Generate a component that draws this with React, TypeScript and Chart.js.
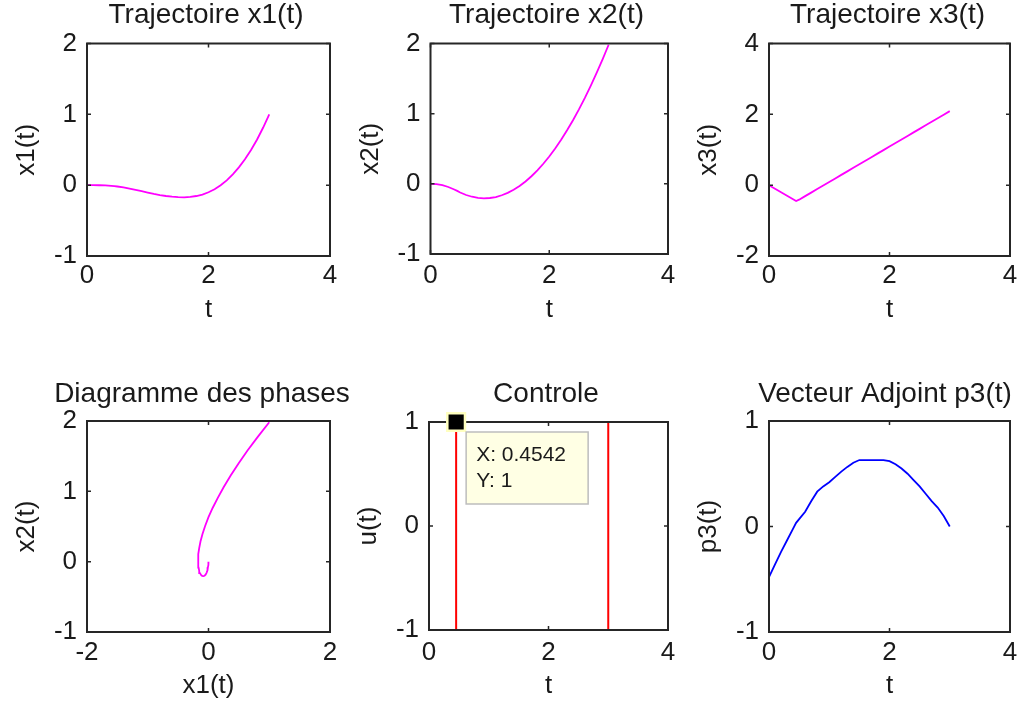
import React, { useEffect, useRef } from 'react';
import { Chart, registerables } from 'chart.js';

Chart.register(...registerables);

// ---------- data ----------
const t = [0, 0.1, 0.2, 0.3, 0.4, 0.45, 0.5, 0.6, 0.7, 0.8, 0.9, 1.0, 1.1, 1.2, 1.3, 1.4, 1.5, 1.6, 1.7, 1.8, 1.9, 2.0, 2.1, 2.2, 2.3, 2.4, 2.5, 2.6, 2.7, 2.8, 2.9, 3.0];
const x1 = [0, 0, -0.001, -0.004, -0.01, -0.014, -0.019, -0.032, -0.048, -0.066, -0.085, -0.104, -0.123, -0.14, -0.153, -0.163, -0.169, -0.171, -0.166, -0.153, -0.132, -0.1, -0.057, -0.002, 0.068, 0.153, 0.251, 0.365, 0.497, 0.645, 0.814, 1.0];
const x2 = [0, -0.005, -0.02, -0.045, -0.08, -0.101, -0.123, -0.159, -0.184, -0.2, -0.206, -0.202, -0.188, -0.163, -0.129, -0.085, -0.031, 0.033, 0.108, 0.192, 0.286, 0.39, 0.504, 0.629, 0.763, 0.907, 1.061, 1.225, 1.4, 1.584, 1.778, 1.982];
const x3 = [0, -0.1, -0.2, -0.3, -0.4, -0.45, -0.41, -0.31, -0.21, -0.11, -0.01, 0.09, 0.19, 0.29, 0.39, 0.49, 0.59, 0.69, 0.79, 0.89, 0.99, 1.09, 1.19, 1.29, 1.39, 1.49, 1.59, 1.69, 1.79, 1.89, 1.99, 2.09];
const p3 = [-0.48, -0.36, -0.24, -0.13, -0.02, 0.035, 0.07, 0.14, 0.24, 0.33, 0.38, 0.42, 0.47, 0.52, 0.565, 0.605, 0.63, 0.63, 0.63, 0.63, 0.63, 0.62, 0.59, 0.55, 0.5, 0.44, 0.38, 0.31, 0.24, 0.18, 0.1, 0.0];
const uT = [0, 0.4542, 0.4542, 3, 3];
const uV = [-1, -1, 1, 1, -1];
const tipX = 0.4542;
const tipY = 1;

const titles = ['Trajectoire x1(t)', 'Trajectoire x2(t)', 'Trajectoire x3(t)', 'Diagramme des phases', 'Controle', 'Vecteur Adjoint p3(t)'];
const xLabels = ['t', 't', 't', 'x1(t)', 't', 't'];
const yLabels = ['x1(t)', 'x2(t)', 'x3(t)', 'x2(t)', 'u(t)', 'p3(t)'];

// ---------- styles ----------
const FONT = '"Liberation Sans", Arial, Helvetica, sans-serif';
const TEXT = '#1a1a1a';
const FRAME = '#262626';
const MAGENTA = '#ff00ff';
const BLUE = '#0000ff';
const RED = '#ff0000';

type Sub = {
  L: number; R: number; T: number; B: number;
  titleX: number; titleY: number; labelY: number; xTitleY: number;
  xMin: number; xMax: number; xStep: number;
  yMin: number; yMax: number; yStep: number;
  datasets: any[];
  tip?: boolean;
};

const pts = (xs: number[], ys: number[]) => xs.map((v, i) => ({ x: v, y: ys[i] }));

const lineDs = (data: any[], color: string, w = 1.8) => ({
  data,
  borderColor: color,
  borderWidth: w,
  pointRadius: 0,
  tension: 0,
  xAxisID: 'x',
  yAxisID: 'y',
  order: 1,
});

const subs: Sub[] = [
  { L: 87, R: 330, T: 43.5, B: 256, titleX: 206, titleY: 15.5, labelY: 276, xTitleY: 309, xMin: 0, xMax: 4, xStep: 2, yMin: -1, yMax: 2, yStep: 1, datasets: [lineDs(pts(t, x1), MAGENTA)] },
  { L: 430.5, R: 668, T: 43.5, B: 254, titleX: 546.5, titleY: 15.5, labelY: 276, xTitleY: 309, xMin: 0, xMax: 4, xStep: 2, yMin: -1, yMax: 2, yStep: 1, datasets: [lineDs(pts(t, x2), MAGENTA)] },
  { L: 769, R: 1010, T: 43.5, B: 256, titleX: 887.5, titleY: 15.5, labelY: 276, xTitleY: 309, xMin: 0, xMax: 4, xStep: 2, yMin: -2, yMax: 4, yStep: 2, datasets: [lineDs(pts(t, x3), MAGENTA)] },
  { L: 87, R: 330, T: 421, B: 632, titleX: 202, titleY: 394.5, labelY: 652.5, xTitleY: 685, xMin: -2, xMax: 2, xStep: 2, yMin: -1, yMax: 2, yStep: 1, datasets: [lineDs(pts(x1, x2), MAGENTA)] },
  {
    L: 429, R: 668, T: 422, B: 630, titleX: 546, titleY: 394, labelY: 652.5, xTitleY: 685, xMin: 0, xMax: 4, xStep: 2, yMin: -1, yMax: 1, yStep: 1,
    datasets: [
      lineDs(pts(uT, uV), RED, 2),
      {
        data: [{ x: tipX, y: tipY }],
        showLine: false,
        pointStyle: 'rect',
        pointRadius: 12.5,
        pointBackgroundColor: '#000000',
        pointBorderColor: '#ffffc0',
        pointBorderWidth: 2.5,
        clip: false,
        xAxisID: 'x',
        yAxisID: 'y',
        order: 0,
      },
    ],
    tip: true,
  },
  { L: 769, R: 1010, T: 421, B: 632, titleX: 885, titleY: 394, labelY: 652.5, xTitleY: 685, xMin: 0, xMax: 4, xStep: 2, yMin: -1, yMax: 1, yStep: 1, datasets: [lineDs(pts(t, p3), BLUE)] },
];

const WL = 76;
const TITLE_SIZE = 28;
const TITLE_LH = TITLE_SIZE * 1.2;
const AX_SIZE = 26;
const AX_LH = AX_SIZE * 1.2;

function geometry(s: Sub) {
  const left = Math.round(s.L - WL);
  const wl = s.L - left;
  const plotW = s.R - s.L;
  const width = Math.round(2 * (s.titleX - left));
  const wr = width - wl - plotW;
  const top = Math.floor(s.titleY - TITLE_LH / 2);
  const padTop = s.titleY - TITLE_LH / 2 - top;
  const padBottom = s.T - top - padTop - TITLE_LH;
  const height = Math.round(s.B - top + (s.xTitleY - s.B + AX_LH / 2));
  const hb = height - (s.B - top);
  const tickPad = s.labelY - s.B - AX_LH / 2;
  return { left, top, width, height, wl, wr, padTop, padBottom, hb, tickPad };
}

const framePlugin = {
  id: 'matlabFrame',
  afterDatasetDraw(chart: any, args: any) {
    if (args.index !== 0) return;
    const { ctx, chartArea: a, scales } = chart;
    ctx.save();
    ctx.strokeStyle = FRAME;
    ctx.lineWidth = 1.5;
    const tl = 4;
    ctx.beginPath();
    for (const tk of scales.x.ticks) {
      const px = scales.x.getPixelForValue(tk.value);
      ctx.moveTo(px, a.bottom); ctx.lineTo(px, a.bottom - tl);
      ctx.moveTo(px, a.top); ctx.lineTo(px, a.top + tl);
    }
    for (const tk of scales.y.ticks) {
      const py = scales.y.getPixelForValue(tk.value);
      ctx.moveTo(a.left, py); ctx.lineTo(a.left + tl, py);
      ctx.moveTo(a.right, py); ctx.lineTo(a.right - tl, py);
    }
    ctx.stroke();
    ctx.lineWidth = 2;
    ctx.strokeRect(a.left, a.top, a.right - a.left, a.bottom - a.top);
    ctx.restore();
  },
};

const tipPlugin = {
  id: 'dataTip',
  afterDatasetsDraw(chart: any, _args: any, opts: any) {
    if (!opts || !opts.show) return;
    const { ctx, scales } = chart;
    const px = scales.x.getPixelForValue(tipX);
    const py = scales.y.getPixelForValue(tipY);
    ctx.save();
    ctx.fillStyle = '#ffffe4';
    ctx.strokeStyle = '#bdbdbd';
    ctx.lineWidth = 1.5;
    ctx.fillRect(px + 10, py + 10, 122, 72);
    ctx.strokeRect(px + 10, py + 10, 122, 72);
    ctx.fillStyle = TEXT;
    ctx.font = `21px ${FONT}`;
    ctx.textBaseline = 'alphabetic';
    ctx.textAlign = 'left';
    ctx.fillText(`X: ${tipX}`, px + 20, py + 39);
    ctx.fillText(`Y: ${tipY}`, px + 20, py + 65);
    ctx.restore();
  },
};

function makeConfig(s: Sub, i: number): any {
  const g = geometry(s);
  const axFont = { family: FONT, size: AX_SIZE, weight: 'normal' as const };
  return {
    type: 'line',
    data: { datasets: s.datasets },
    plugins: [framePlugin, tipPlugin],
    options: {
      responsive: false,
      animation: false,
      events: [],
      layout: { padding: 0 },
      plugins: {
        legend: { display: false },
        tooltip: { enabled: false },
        title: {
          display: true,
          text: titles[i],
          color: TEXT,
          font: { family: FONT, size: TITLE_SIZE, weight: 'normal', lineHeight: 1.2 },
          padding: { top: g.padTop, bottom: g.padBottom },
          fullSize: true,
        },
        dataTip: { show: !!s.tip },
      },
      scales: {
        x: {
          type: 'linear',
          position: 'bottom',
          min: s.xMin,
          max: s.xMax,
          ticks: { stepSize: s.xStep, padding: g.tickPad, color: TEXT, font: axFont, maxRotation: 0, autoSkip: false },
          grid: { display: false, drawTicks: false },
          border: { display: false },
          title: { display: true, text: xLabels[i], color: TEXT, font: { ...axFont, lineHeight: 1.2 }, padding: 0 },
          afterFit: (sc: any) => { sc.height = g.hb; },
        },
        y: {
          type: 'linear',
          position: 'left',
          min: s.yMin,
          max: s.yMax,
          ticks: { stepSize: s.yStep, padding: 10, color: TEXT, font: axFont, autoSkip: false },
          grid: { display: false, drawTicks: false },
          border: { display: false },
          title: { display: true, text: yLabels[i], color: TEXT, font: { ...axFont, lineHeight: 1.2 }, padding: 0 },
          afterFit: (sc: any) => { sc.width = g.wl; },
        },
        yr: {
          type: 'linear',
          position: 'right',
          min: s.yMin,
          max: s.yMax,
          ticks: { display: false },
          grid: { display: false, drawTicks: false },
          border: { display: false },
          afterFit: (sc: any) => { sc.width = g.wr; },
        },
      },
    },
  };
}

function SubPlot({ s, i }: { s: Sub; i: number }) {
  const ref = useRef<HTMLCanvasElement | null>(null);
  const g = geometry(s);
  useEffect(() => {
    if (!ref.current) return;
    const chart = new Chart(ref.current, makeConfig(s, i));
    return () => chart.destroy();
  }, []);
  return (
    <canvas
      ref={ref}
      width={g.width}
      height={g.height}
      style={{ position: 'absolute', left: g.left, top: g.top, width: g.width, height: g.height }}
    />
  );
}

export default function App() {
  return (
    <div style={{ position: 'absolute', left: 0, top: 0, width: 1019, height: 703, overflow: 'hidden', background: '#ffffff' }}>
      {subs.map((s, i) => (
        <SubPlot key={i} s={s} i={i} />
      ))}
    </div>
  );
}
